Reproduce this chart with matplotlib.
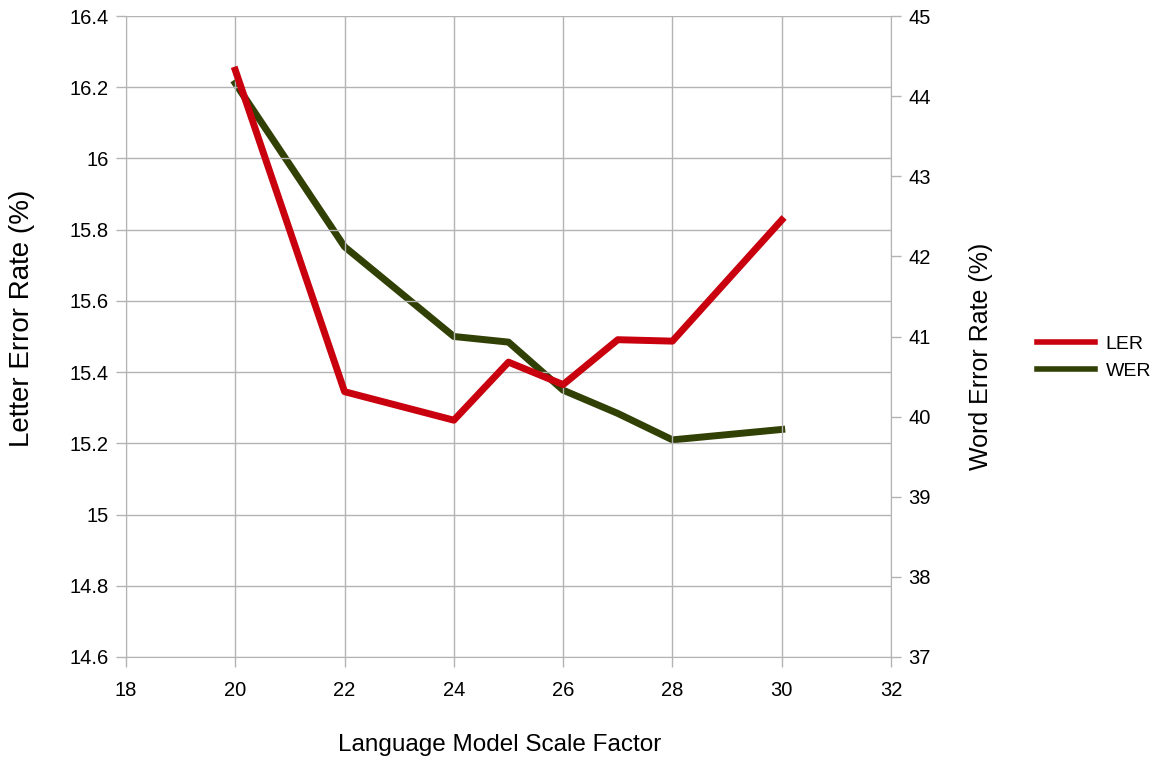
import matplotlib.pyplot as plt

plt.rcParams['font.family'] = ['Liberation Sans', 'DejaVu Sans']

# data
scale = [20, 22, 24, 25, 26, 27, 28, 30]
ler = [16.248, 15.345, 15.265, 15.428, 15.365, 15.491, 15.487, 15.827]
wer = [44.16, 42.12, 41.0, 40.93, 40.33, 40.04, 39.71, 39.84]

xticks = [18, 20, 22, 24, 26, 28, 30, 32]
lticks = [14.6, 14.8, 15, 15.2, 15.4, 15.6, 15.8, 16, 16.2, 16.4]
lticklabels = ['14.6', '14.8', '15', '15.2', '15.4', '15.6', '15.8', '16', '16.2', '16.4']
rticks = [37, 38, 39, 40, 41, 42, 43, 44, 45]

red = '#c9000e'
green = '#314004'
grey = '#b3b3b3'

W, H = 1161, 760
fig = plt.figure(figsize=(W / 100, H / 100), dpi=100)
# plot area in pixels: left 126, right 891, top 16, bottom 657
ax = fig.add_axes([126 / W, 1 - 657 / H, (891 - 126) / W, (657 - 16) / H])
ax2 = ax.twinx()

l1, = ax.plot(scale, ler, color=red, lw=5, label='LER', zorder=3)
l2, = ax2.plot(scale, wer, color=green, lw=5, label='WER', zorder=3)
ax.set_zorder(ax2.get_zorder() + 1)
ax.patch.set_visible(False)

ax.set_xlim(18, 32)
ax.set_ylim(14.6, 16.4)
ax2.set_ylim(37, 45)
ax.set_xticks(xticks)
ax.set_yticks(lticks)
ax.set_yticklabels(lticklabels)
ax2.set_yticks(rticks)

ax.grid(True, color=grey, lw=1)
ax2.grid(False)
for a in (ax, ax2):
    for s in a.spines.values():
        s.set_visible(False)
    a.tick_params(length=7.5, width=1, color=grey, labelsize=14.5, pad=5)
ax.tick_params(axis='x', pad=10)
ax.spines['left'].set_visible(True)
ax.spines['left'].set_color(grey)
ax.spines['bottom'].set_visible(True)
ax.spines['bottom'].set_color(grey)
ax2.spines['right'].set_visible(True)
ax2.spines['right'].set_color(grey)

# axis titles placed where the reference has them
fig.text(500 / W, 1 - 745 / H, 'Language Model Scale Factor', fontsize=17.5,
         ha='center', va='center')
fig.text(22 / W, 1 - 318 / H, 'Letter Error Rate (%)', fontsize=20,
         rotation=90, ha='center', va='center')
fig.text(981 / W, 1 - 356 / H, 'Word Error Rate (%)', fontsize=18,
         rotation=90, ha='center', va='center')

leg = fig.legend(handles=[l1, l2], loc='center left',
                 bbox_to_anchor=(1019 / W, 1 - 357.5 / H),
                 frameon=False, fontsize=14, handlelength=3.0,
                 handletextpad=0.55, labelspacing=0.5)
for ln in leg.get_lines():
    ln.set_linewidth(4)

fig.savefig('out.png', dpi=100)
